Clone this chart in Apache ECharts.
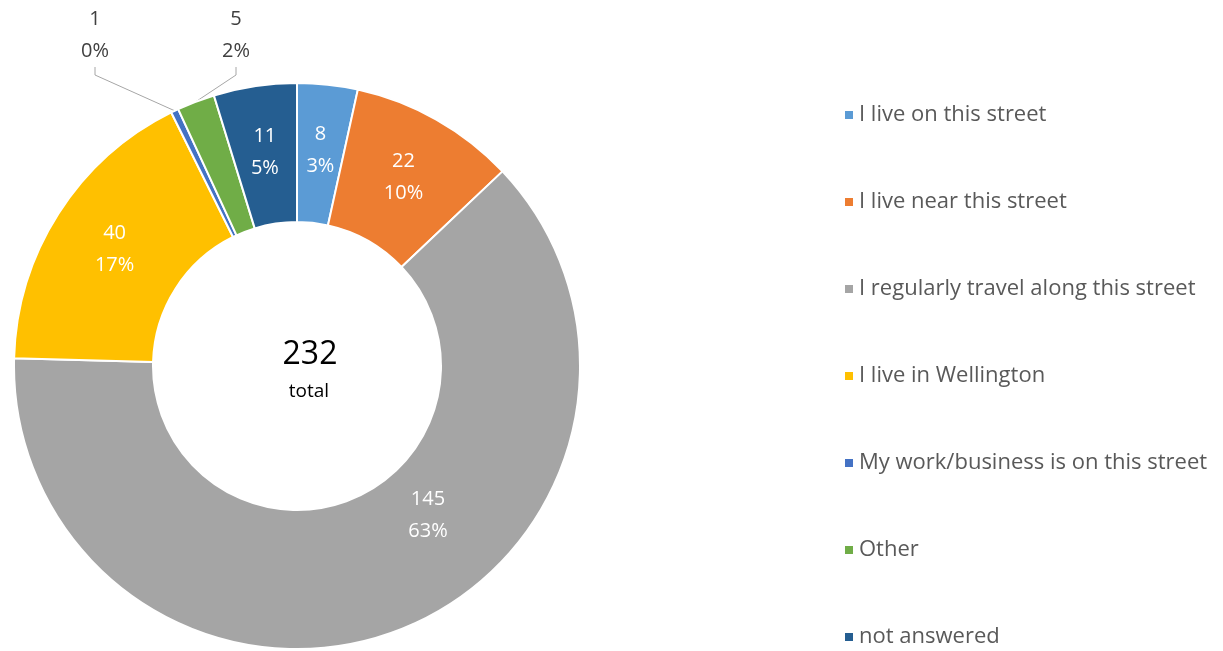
<!DOCTYPE html>
<html>
<head>
<meta charset="utf-8">
<script src="https://cdn.jsdelivr.net/npm/echarts@6/dist/echarts.min.js"></script>
<style>
  html, body { margin: 0; padding: 0; background: #fff; }
  #chart { width: 1223px; height: 651px; }
</style>
</head>
<body>
<div id="chart"></div>
<script>
// categories and counts (clockwise from 12 o'clock)
var categories = [
  'I live on this street',
  'I live near this street',
  'I regularly travel along this street',
  'I live in Wellington',
  'My work/business is on this street',
  'Other',
  'not answered'
];
var counts = [8, 22, 145, 40, 1, 5, 11];
var colors = ['#5B9BD5', '#ED7D31', '#A5A5A5', '#FFC000', '#4472C4', '#70AD47', '#255E91'];
var outsideIdx = [4, 5]; // small slices labelled outside with leader lines

var total = counts.reduce(function (a, b) { return a + b; }, 0);
var font = '"Open Sans", sans-serif';

var data = categories.map(function (name, i) {
  var item = { name: name, value: counts[i] };
  if (outsideIdx.indexOf(i) >= 0) {
    item.label = { position: 'outside', color: '#404040' };
    item.labelLine = { show: true };
  }
  return item;
});

var myChart = echarts.init(document.getElementById('chart'));

var option = {
  animation: false,
  color: colors,
  legend: {
    orient: 'vertical',
    left: 843,
    top: 104,
    padding: 0,
    itemWidth: 10,
    itemHeight: 10,
    itemGap: 65,
    icon: 'rect',
    textStyle: { color: '#595959', fontSize: 22, fontFamily: font },
    data: categories
  },
  graphic: [
    {
      type: 'text',
      x: 310, y: 355,
      style: { text: String(total), fontSize: 32, fontFamily: font, fill: '#000', align: 'center', verticalAlign: 'middle' }
    },
    {
      type: 'text',
      x: 309, y: 392,
      style: { text: 'total', fontSize: 19, fontFamily: font, fill: '#000', align: 'center', verticalAlign: 'middle' }
    }
  ],
  series: [
    {
      type: 'pie',
      center: [297, 366],
      radius: [144, 283],
      startAngle: 90,
      clockwise: true,
      percentPrecision: 0,
      avoidLabelOverlap: false,
      itemStyle: { borderColor: '#fff', borderWidth: 2 },
      label: {
        show: true,
        position: 'inside',
        color: '#fff',
        fontSize: 20,
        lineHeight: 32,
        fontFamily: font,
        formatter: function (p) {
          return p.value + '\n' + p.percent + '%';
        }
      },
      labelLine: {
        show: false,
        length: 20,
        length2: 8,
        lineStyle: { color: '#A6A6A6', width: 1 }
      },
      labelLayout: function (p) {
        if (p.dataIndex === 4) return { x: 95, y: 35, align: 'center', verticalAlign: 'middle' };
        if (p.dataIndex === 5) return { x: 236, y: 35, align: 'center', verticalAlign: 'middle' };
        if (p.dataIndex === 2) return { x: 428, y: 515, align: 'center', verticalAlign: 'middle' };
        return {};
      },
      data: data
    }
  ]
};

myChart.setOption(option);
</script>
</body>
</html>
